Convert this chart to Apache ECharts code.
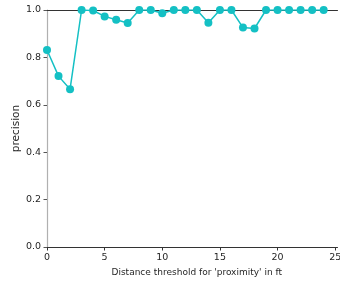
<!DOCTYPE html>
<html>
<head>
<meta charset="utf-8">
<script src="https://cdn.jsdelivr.net/npm/echarts@6/dist/echarts.min.js"></script>
<style>
    html, body { margin: 0; padding: 0; background: #fff; }
    #main { width: 340px; height: 283px; }
</style>
</head>
<body>
<div id="main"></div>
<script>
// distance threshold (ft) vs precision
var thresholds = [0, 1, 2, 3, 4, 5, 6, 7, 8, 9, 10, 11, 12, 13, 14, 15, 16, 17, 18, 19, 20, 21, 22, 23, 24];
var precision = [0.831, 0.721, 0.666, 1.0, 0.998, 0.973, 0.959, 0.945, 1.0, 1.0, 0.986, 1.0, 1.0, 1.0, 0.946,
                 1.0, 1.0, 0.926, 0.922, 1.0, 1.0, 1.0, 1.0, 1.0, 1.0];
var xTicks = [0, 5, 10, 15, 20, 25];
var yTicks = [0, 0.2, 0.4, 0.6, 0.8, 1.0];

var points = thresholds.map(function (t, i) { return [t, precision[i]]; });
var font = 'DejaVu Sans';

var myChart = echarts.init(document.getElementById('main'));
var option = {
    animation: false,
    grid: { left: 47, right: 2.5, top: 10, bottom: 36, containLabel: false, outerBoundsMode: 'none' },
    xAxis: [{
        type: 'value',
        min: 0,
        max: 25.2,
        name: "Distance threshold for 'proximity' in ft",
        nameLocation: 'middle',
        nameGap: 21,
        nameMoveOverlap: false,
        nameTextStyle: { color: '#262626', fontSize: 9, fontFamily: font, padding: [0, 0, 0, 9] },
        axisLine: { show: true, onZero: false, lineStyle: { color: '#333', width: 1 } },
        axisTick: { show: true, length: 3.5, customValues: xTicks, lineStyle: { color: '#333' } },
        axisLabel: { customValues: xTicks, margin: 6, color: '#262626', fontSize: 9.5, fontFamily: font },
        splitLine: { show: false }
    }, {
        // top frame line
        type: 'value',
        position: 'top',
        min: 0,
        max: 25.2,
        axisLine: { show: true, onZero: false, lineStyle: { color: '#333', width: 1 } },
        axisTick: { show: false },
        axisLabel: { show: false },
        splitLine: { show: false }
    }],
    yAxis: {
        type: 'value',
        min: 0,
        max: 1,
        interval: 0.2,
        name: 'precision',
        nameLocation: 'middle',
        nameGap: 25,
        nameMoveOverlap: false,
        nameTextStyle: { color: '#262626', fontSize: 10.5, fontFamily: font },
        axisLine: { show: true, lineStyle: { color: '#b0b0b0', width: 1.2 } },
        axisTick: { show: true, length: 3.5, lineStyle: { color: '#555' } },
        axisLabel: {
            margin: 6, color: '#262626', fontSize: 9.5, fontFamily: font,
            formatter: function (v) { return v.toFixed(1); }
        },
        splitLine: { show: false }
    },
    series: [{
        type: 'line',
        xAxisIndex: 0,
        data: points,
        symbol: 'circle',
        symbolSize: 8,
        itemStyle: { color: '#14c0c4' },
        lineStyle: { color: '#14c0c4', width: 1.5 }
    }]
};
myChart.setOption(option);
</script>
</body>
</html>
